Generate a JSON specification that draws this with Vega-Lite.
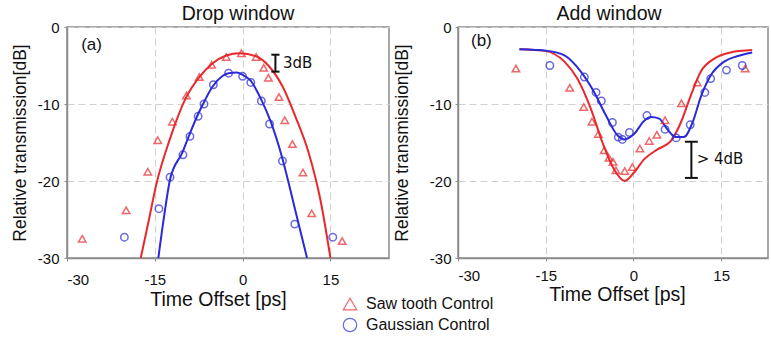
{
  "$schema": "https://vega.github.io/schema/vega-lite/v6.json",
  "background": "white",
  "padding": {"left": 10, "top": 3, "right": 0, "bottom": 0},
  "autosize": {"type": "pad"},
  "bounds": "flush",
  "spacing": 69,
  "resolve": {"legend": {"color": "independent", "shape": "independent"}},
  "config": {
    "font": "Liberation Sans",
    "view": {"stroke": "#8c8c8c", "strokeWidth": 1.5},
    "axis": {"labelFont": "Liberation Sans", "labelFontSize": 15, "labelColor": "#111", "titleFont": "Liberation Sans", "titleFontSize": 17.5, "titleFontWeight": "normal", "titleColor": "#111", "domainColor": "#8c8c8c", "domainWidth": 1.5, "tickColor": "#8c8c8c", "tickSize": 3, "gridColor": "#d0d0d0", "gridDash": [7, 4], "gridWidth": 1, "labelExpr": "'' + datum.value"},
    "axisX": {"titleFontSize": 19.5},
    "title": {"fontSize": 19.5, "fontWeight": "normal", "font": "Liberation Sans", "color": "#111", "offset": -4.5},
    "legend": {"labelFont": "Liberation Sans", "labelFontSize": 16, "labelColor": "#111", "symbolSize": 180, "symbolStrokeWidth": 1.2, "rowPadding": 2, "labelOffset": 8, "symbolFillColor": "transparent"}
  },
  "datasets": {
    "pts": [
      {"panel": "a", "series": "Saw tooth Control", "t": -27.4, "db": -27.5},
      {"panel": "a", "series": "Saw tooth Control", "t": -19.9, "db": -23.8},
      {"panel": "a", "series": "Saw tooth Control", "t": -16.2, "db": -18.8},
      {"panel": "a", "series": "Saw tooth Control", "t": -14.5, "db": -14.7},
      {"panel": "a", "series": "Saw tooth Control", "t": -12.0, "db": -12.3},
      {"panel": "a", "series": "Saw tooth Control", "t": -9.6, "db": -8.9},
      {"panel": "a", "series": "Saw tooth Control", "t": -7.4, "db": -6.5},
      {"panel": "a", "series": "Saw tooth Control", "t": -5.3, "db": -4.9},
      {"panel": "a", "series": "Saw tooth Control", "t": -2.8, "db": -3.9},
      {"panel": "a", "series": "Saw tooth Control", "t": -0.2, "db": -3.4},
      {"panel": "a", "series": "Saw tooth Control", "t": 2.3, "db": -3.9},
      {"panel": "a", "series": "Saw tooth Control", "t": 3.6, "db": -5.3},
      {"panel": "a", "series": "Saw tooth Control", "t": 4.4, "db": -6.6},
      {"panel": "a", "series": "Saw tooth Control", "t": 6.2, "db": -9.1},
      {"panel": "a", "series": "Saw tooth Control", "t": 7.2, "db": -12.1},
      {"panel": "a", "series": "Saw tooth Control", "t": 8.5, "db": -15.2},
      {"panel": "a", "series": "Saw tooth Control", "t": 10.3, "db": -18.9},
      {"panel": "a", "series": "Saw tooth Control", "t": 11.8, "db": -24.2},
      {"panel": "a", "series": "Saw tooth Control", "t": 17.0, "db": -27.8},
      {"panel": "a", "series": "Gaussian Control", "t": -20.2, "db": -27.3},
      {"panel": "a", "series": "Gaussian Control", "t": -14.3, "db": -23.6},
      {"panel": "a", "series": "Gaussian Control", "t": -12.4, "db": -19.5},
      {"panel": "a", "series": "Gaussian Control", "t": -10.2, "db": -16.6},
      {"panel": "a", "series": "Gaussian Control", "t": -9.0, "db": -14.2},
      {"panel": "a", "series": "Gaussian Control", "t": -7.6, "db": -11.6},
      {"panel": "a", "series": "Gaussian Control", "t": -6.6, "db": -10.0},
      {"panel": "a", "series": "Gaussian Control", "t": -5.0, "db": -7.5},
      {"panel": "a", "series": "Gaussian Control", "t": -2.4, "db": -6.0},
      {"panel": "a", "series": "Gaussian Control", "t": 0.0, "db": -6.4},
      {"panel": "a", "series": "Gaussian Control", "t": 1.4, "db": -7.2},
      {"panel": "a", "series": "Gaussian Control", "t": 3.2, "db": -9.6},
      {"panel": "a", "series": "Gaussian Control", "t": 4.6, "db": -12.6},
      {"panel": "a", "series": "Gaussian Control", "t": 6.8, "db": -17.4},
      {"panel": "a", "series": "Gaussian Control", "t": 8.9, "db": -25.6},
      {"panel": "a", "series": "Gaussian Control", "t": 15.4, "db": -27.3},
      {"panel": "b", "series": "Saw tooth Control", "t": -20.1, "db": -5.4},
      {"panel": "b", "series": "Saw tooth Control", "t": -10.9, "db": -7.9},
      {"panel": "b", "series": "Saw tooth Control", "t": -8.5, "db": -10.4},
      {"panel": "b", "series": "Saw tooth Control", "t": -7.1, "db": -12.3},
      {"panel": "b", "series": "Saw tooth Control", "t": -6.0, "db": -13.9},
      {"panel": "b", "series": "Saw tooth Control", "t": -5.0, "db": -16.0},
      {"panel": "b", "series": "Saw tooth Control", "t": -4.2, "db": -17.0},
      {"panel": "b", "series": "Saw tooth Control", "t": -3.5, "db": -17.5},
      {"panel": "b", "series": "Saw tooth Control", "t": -3.0, "db": -18.6},
      {"panel": "b", "series": "Saw tooth Control", "t": -1.5, "db": -18.7},
      {"panel": "b", "series": "Saw tooth Control", "t": -0.2, "db": -18.2},
      {"panel": "b", "series": "Saw tooth Control", "t": 1.1, "db": -15.8},
      {"panel": "b", "series": "Saw tooth Control", "t": 2.7, "db": -14.8},
      {"panel": "b", "series": "Saw tooth Control", "t": 4.0, "db": -14.0},
      {"panel": "b", "series": "Saw tooth Control", "t": 5.4, "db": -12.1},
      {"panel": "b", "series": "Saw tooth Control", "t": 8.2, "db": -9.9},
      {"panel": "b", "series": "Saw tooth Control", "t": 10.9, "db": -7.2},
      {"panel": "b", "series": "Saw tooth Control", "t": 19.1, "db": -5.4},
      {"panel": "b", "series": "Gaussian Control", "t": -14.3, "db": -5.0},
      {"panel": "b", "series": "Gaussian Control", "t": -8.4, "db": -6.5},
      {"panel": "b", "series": "Gaussian Control", "t": -6.4, "db": -8.5},
      {"panel": "b", "series": "Gaussian Control", "t": -5.5, "db": -9.6},
      {"panel": "b", "series": "Gaussian Control", "t": -3.6, "db": -12.4},
      {"panel": "b", "series": "Gaussian Control", "t": -2.6, "db": -14.3},
      {"panel": "b", "series": "Gaussian Control", "t": -1.9, "db": -14.6},
      {"panel": "b", "series": "Gaussian Control", "t": -0.7, "db": -13.7},
      {"panel": "b", "series": "Gaussian Control", "t": 2.3, "db": -11.5},
      {"panel": "b", "series": "Gaussian Control", "t": 5.4, "db": -13.3},
      {"panel": "b", "series": "Gaussian Control", "t": 7.3, "db": -14.4},
      {"panel": "b", "series": "Gaussian Control", "t": 9.7, "db": -12.7},
      {"panel": "b", "series": "Gaussian Control", "t": 12.2, "db": -8.5},
      {"panel": "b", "series": "Gaussian Control", "t": 13.2, "db": -6.7},
      {"panel": "b", "series": "Gaussian Control", "t": 15.9, "db": -5.6},
      {"panel": "b", "series": "Gaussian Control", "t": 18.6, "db": -5.0}
    ],
    "fit": [
      {"panel": "a", "series": "Saw tooth Control", "t": -17.4, "db": -30},
      {"panel": "a", "series": "Saw tooth Control", "t": -16.0, "db": -25},
      {"panel": "a", "series": "Saw tooth Control", "t": -14.7, "db": -20.3},
      {"panel": "a", "series": "Saw tooth Control", "t": -12.4, "db": -14.5},
      {"panel": "a", "series": "Saw tooth Control", "t": -9.7, "db": -9.2},
      {"panel": "a", "series": "Saw tooth Control", "t": -7.4, "db": -6.5},
      {"panel": "a", "series": "Saw tooth Control", "t": -5.1, "db": -4.7},
      {"panel": "a", "series": "Saw tooth Control", "t": -2.8, "db": -3.7},
      {"panel": "a", "series": "Saw tooth Control", "t": -0.5, "db": -3.4},
      {"panel": "a", "series": "Saw tooth Control", "t": 2.3, "db": -3.8},
      {"panel": "a", "series": "Saw tooth Control", "t": 4.5, "db": -5.1},
      {"panel": "a", "series": "Saw tooth Control", "t": 6.8, "db": -7.7},
      {"panel": "a", "series": "Saw tooth Control", "t": 9.0, "db": -11.6},
      {"panel": "a", "series": "Saw tooth Control", "t": 11.3, "db": -16.4},
      {"panel": "a", "series": "Saw tooth Control", "t": 13.3, "db": -22.5},
      {"panel": "a", "series": "Saw tooth Control", "t": 15.0, "db": -30},
      {"panel": "a", "series": "Gaussian Control", "t": -14.4, "db": -30},
      {"panel": "a", "series": "Gaussian Control", "t": -13.4, "db": -24.5},
      {"panel": "a", "series": "Gaussian Control", "t": -12.4, "db": -19.8},
      {"panel": "a", "series": "Gaussian Control", "t": -10.3, "db": -16.3},
      {"panel": "a", "series": "Gaussian Control", "t": -9.0, "db": -13.8},
      {"panel": "a", "series": "Gaussian Control", "t": -7.6, "db": -11.3},
      {"panel": "a", "series": "Gaussian Control", "t": -6.5, "db": -9.6},
      {"panel": "a", "series": "Gaussian Control", "t": -5.1, "db": -7.7},
      {"panel": "a", "series": "Gaussian Control", "t": -3.5, "db": -6.4},
      {"panel": "a", "series": "Gaussian Control", "t": -2.4, "db": -6.0},
      {"panel": "a", "series": "Gaussian Control", "t": -1.0, "db": -5.9},
      {"panel": "a", "series": "Gaussian Control", "t": 0.0, "db": -6.2},
      {"panel": "a", "series": "Gaussian Control", "t": 1.4, "db": -7.0},
      {"panel": "a", "series": "Gaussian Control", "t": 3.1, "db": -9.3},
      {"panel": "a", "series": "Gaussian Control", "t": 4.8, "db": -12.3},
      {"panel": "a", "series": "Gaussian Control", "t": 6.8, "db": -17.1},
      {"panel": "a", "series": "Gaussian Control", "t": 8.8, "db": -23.2},
      {"panel": "a", "series": "Gaussian Control", "t": 11.0, "db": -30},
      {"panel": "b", "series": "Saw tooth Control", "t": -19.5, "db": -2.9},
      {"panel": "b", "series": "Saw tooth Control", "t": -15.2, "db": -3.1},
      {"panel": "b", "series": "Saw tooth Control", "t": -11.8, "db": -4.5},
      {"panel": "b", "series": "Saw tooth Control", "t": -9.6, "db": -6.7},
      {"panel": "b", "series": "Saw tooth Control", "t": -7.3, "db": -10.6},
      {"panel": "b", "series": "Saw tooth Control", "t": -5.3, "db": -15.0},
      {"panel": "b", "series": "Saw tooth Control", "t": -3.3, "db": -18.5},
      {"panel": "b", "series": "Saw tooth Control", "t": -1.5, "db": -20.0},
      {"panel": "b", "series": "Saw tooth Control", "t": 0.1, "db": -18.9},
      {"panel": "b", "series": "Saw tooth Control", "t": 1.8, "db": -17.2},
      {"panel": "b", "series": "Saw tooth Control", "t": 4.1, "db": -15.9},
      {"panel": "b", "series": "Saw tooth Control", "t": 6.4, "db": -14.8},
      {"panel": "b", "series": "Saw tooth Control", "t": 8.1, "db": -12.4},
      {"panel": "b", "series": "Saw tooth Control", "t": 9.8, "db": -8.9},
      {"panel": "b", "series": "Saw tooth Control", "t": 11.5, "db": -5.8},
      {"panel": "b", "series": "Saw tooth Control", "t": 13.8, "db": -4.1},
      {"panel": "b", "series": "Saw tooth Control", "t": 16.6, "db": -3.3},
      {"panel": "b", "series": "Saw tooth Control", "t": 20.3, "db": -3.0},
      {"panel": "b", "series": "Gaussian Control", "t": -19.5, "db": -2.9},
      {"panel": "b", "series": "Gaussian Control", "t": -14.7, "db": -3.1},
      {"panel": "b", "series": "Gaussian Control", "t": -11.8, "db": -3.7},
      {"panel": "b", "series": "Gaussian Control", "t": -9.0, "db": -5.8},
      {"panel": "b", "series": "Gaussian Control", "t": -6.7, "db": -8.5},
      {"panel": "b", "series": "Gaussian Control", "t": -4.7, "db": -11.5},
      {"panel": "b", "series": "Gaussian Control", "t": -2.7, "db": -14.1},
      {"panel": "b", "series": "Gaussian Control", "t": -1.6, "db": -14.6},
      {"panel": "b", "series": "Gaussian Control", "t": 0.1, "db": -13.9},
      {"panel": "b", "series": "Gaussian Control", "t": 1.8, "db": -12.2},
      {"panel": "b", "series": "Gaussian Control", "t": 3.0, "db": -11.7},
      {"panel": "b", "series": "Gaussian Control", "t": 4.4, "db": -11.9},
      {"panel": "b", "series": "Gaussian Control", "t": 5.8, "db": -13.3},
      {"panel": "b", "series": "Gaussian Control", "t": 7.2, "db": -14.3},
      {"panel": "b", "series": "Gaussian Control", "t": 8.6, "db": -14.3},
      {"panel": "b", "series": "Gaussian Control", "t": 10.1, "db": -12.4},
      {"panel": "b", "series": "Gaussian Control", "t": 11.5, "db": -9.1},
      {"panel": "b", "series": "Gaussian Control", "t": 13.2, "db": -6.3},
      {"panel": "b", "series": "Gaussian Control", "t": 15.5, "db": -4.5},
      {"panel": "b", "series": "Gaussian Control", "t": 17.7, "db": -3.8},
      {"panel": "b", "series": "Gaussian Control", "t": 20.3, "db": -3.3}
    ],
    "tags": [
      {"panel": "a", "t": -25.8, "db": -2.3, "label": "(a)"},
      {"panel": "b", "t": -26.0, "db": -1.8, "label": "(b)"}
    ],
    "notes": [
      {"panel": "a", "t": 6.9, "db": -4.7, "label": "3dB"},
      {"panel": "b", "t": 10.8, "db": -17.2, "label": "> 4dB"}
    ],
    "bars": [
      {"panel": "a", "t": 5.6, "t2": 5.6, "db": -3.6, "db2": -5.8},
      {"panel": "a", "t": 4.9, "t2": 6.3, "db": -3.6, "db2": -3.6},
      {"panel": "a", "t": 4.9, "t2": 6.3, "db": -5.8, "db2": -5.8},
      {"panel": "b", "t": 9.9, "t2": 9.9, "db": -14.9, "db2": -19.6},
      {"panel": "b", "t": 8.8, "t2": 11.0, "db": -14.9, "db2": -14.9},
      {"panel": "b", "t": 8.8, "t2": 11.0, "db": -19.6, "db2": -19.6}
    ]
  },
  "hconcat": [
    {
      "width": 322,
      "height": 231,
      "title": {"text": "Drop window", "dx": 10},
      "encoding": {
        "x": {"field": "t", "type": "quantitative", "scale": {"domain": [-30, 25], "nice": false}, "axis": {"values": [-30, -15, 0, 15], "title": "Time Offset [ps]", "labelPadding": 11, "titlePadding": 3, "titleX": 151}},
        "y": {"field": "db", "type": "quantitative", "scale": {"domain": [-30, 0], "nice": false}, "axis": {"values": [0, -10, -20, -30], "title": "Relative transmission[dB]", "labelPadding": 5, "titlePadding": 8}}
      },
      "layer": [
        {"data": {"name": "fit"}, "transform": [{"filter": "datum.panel == 'a'"}], "mark": {"type": "line", "strokeWidth": 2, "interpolate": "monotone", "clip": true},
          "encoding": {"stroke": {"field": "series", "type": "nominal", "scale": {"domain": ["Saw tooth Control", "Gaussian Control"], "range": ["#e8282c", "#2a2ad6"]}, "legend": null}}},
        {"data": {"name": "pts"}, "transform": [{"filter": "datum.panel == 'a'"}], "mark": {"type": "point", "filled": false, "size": 55, "strokeWidth": 1.5},
          "encoding": {
            "color": {"field": "series", "type": "nominal", "scale": {"domain": ["Saw tooth Control", "Gaussian Control"], "range": ["#e8282c", "#2a2ad6"]}, "legend": {"orient": "none", "legendX": 275, "legendY": 269, "title": null}},
            "shape": {"field": "series", "type": "nominal", "scale": {"domain": ["Saw tooth Control", "Gaussian Control"], "range": ["triangle-up", "circle"]}, "legend": {"orient": "none", "legendX": 275, "legendY": 269, "title": null}}}},
        {"data": {"name": "bars"}, "transform": [{"filter": "datum.panel == 'a'"}], "mark": {"type": "rule", "color": "#111", "strokeWidth": 2},
          "encoding": {"x2": {"field": "t2"}, "y2": {"field": "db2"}}},
        {"data": {"name": "tags"}, "transform": [{"filter": "datum.panel == 'a'"}], "mark": {"type": "text", "fontSize": 17, "color": "#111", "align": "center", "baseline": "middle"},
          "encoding": {"text": {"field": "label"}}},
        {"data": {"name": "notes"}, "transform": [{"filter": "datum.panel == 'a'"}], "mark": {"type": "text", "fontSize": 15, "font": "DejaVu Sans", "color": "#111", "align": "left", "baseline": "middle"},
          "encoding": {"text": {"field": "label"}}}
      ]
    },
    {
      "width": 310,
      "height": 231,
      "title": {"text": "Add window", "dx": -4},
      "encoding": {
        "x": {"field": "t", "type": "quantitative", "scale": {"domain": [-30, 23], "nice": false}, "axis": {"values": [-30, -15, 0, 15], "title": "Time Offset [ps]", "labelPadding": 7, "titlePadding": 2, "titleX": 159}},
        "y": {"field": "db", "type": "quantitative", "scale": {"domain": [-30, 0], "nice": false}, "axis": {"values": [0, -10, -20, -30], "title": "Relative transmission[dB]", "labelPadding": 4, "titlePadding": 18}}
      },
      "layer": [
        {"data": {"name": "fit"}, "transform": [{"filter": "datum.panel == 'b'"}], "mark": {"type": "line", "strokeWidth": 2, "interpolate": "monotone", "clip": true},
          "encoding": {"stroke": {"field": "series", "type": "nominal", "scale": {"domain": ["Saw tooth Control", "Gaussian Control"], "range": ["#e8282c", "#2a2ad6"]}, "legend": null}}},
        {"data": {"name": "pts"}, "transform": [{"filter": "datum.panel == 'b'"}], "mark": {"type": "point", "filled": false, "size": 55, "strokeWidth": 1.5},
          "encoding": {
            "color": {"field": "series", "type": "nominal", "scale": {"domain": ["Saw tooth Control", "Gaussian Control"], "range": ["#e8282c", "#2a2ad6"]}, "legend": null},
            "shape": {"field": "series", "type": "nominal", "scale": {"domain": ["Saw tooth Control", "Gaussian Control"], "range": ["triangle-up", "circle"]}, "legend": null}}},
        {"data": {"name": "bars"}, "transform": [{"filter": "datum.panel == 'b'"}], "mark": {"type": "rule", "color": "#111", "strokeWidth": 2},
          "encoding": {"x2": {"field": "t2"}, "y2": {"field": "db2"}}},
        {"data": {"name": "tags"}, "transform": [{"filter": "datum.panel == 'b'"}], "mark": {"type": "text", "fontSize": 17, "color": "#111", "align": "center", "baseline": "middle"},
          "encoding": {"text": {"field": "label"}}},
        {"data": {"name": "notes"}, "transform": [{"filter": "datum.panel == 'b'"}], "mark": {"type": "text", "fontSize": 15, "font": "DejaVu Sans", "color": "#111", "align": "left", "baseline": "middle"},
          "encoding": {"text": {"field": "label"}}}
      ]
    }
  ]
}
